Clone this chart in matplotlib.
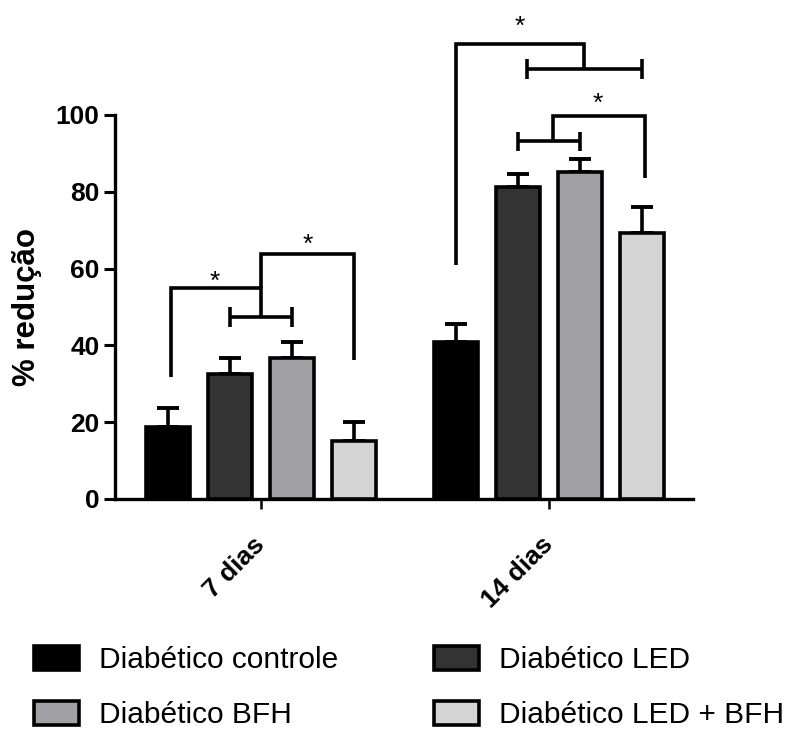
import matplotlib
matplotlib.use("Agg")
import matplotlib.pyplot as plt
import numpy as np

plt.rcParams['font.family'] = ['Liberation Sans', 'DejaVu Sans']

# ---- data ----
groups = ["7 dias", "14 dias"]
series = ["Diabético controle", "Diabético LED", "Diabético BFH", "Diabético LED + BFH"]
means = {
    "Diabético controle":   [18.8, 40.8],
    "Diabético LED":        [32.5, 81.3],
    "Diabético BFH":        [36.6, 85.2],
    "Diabético LED + BFH":  [15.2, 69.4],
}
errors = {
    "Diabético controle":   [4.8, 4.8],
    "Diabético LED":        [4.1, 3.4],
    "Diabético BFH":        [4.2, 3.3],
    "Diabético LED + BFH":  [4.9, 6.7],
}
colors = ["#000000", "#333333", "#a1a1a5", "#d4d4d4"]
yticks = [0, 20, 40, 60, 80, 100]

# ---- figure ----
W, H = 806, 734
fig = plt.figure(figsize=(W / 100, H / 100), dpi=100)
ax = fig.add_axes([115 / W, 1 - 499 / H, 578 / W, 384 / H])

x = np.arange(len(groups))
pitch = 0.215
width = 0.153
offsets = (np.arange(len(series)) - 1.5) * pitch

bars = []
centers = {}
for i, s in enumerate(series):
    xs = x + offsets[i]
    centers[s] = xs
    b = ax.bar(xs, means[s], width=width, color=colors[i], edgecolor="black",
               linewidth=2.6, zorder=3, label=s)
    bars.append(b)
    ax.errorbar(xs, means[s], yerr=[np.zeros(len(groups)), errors[s]], fmt="none",
                ecolor="black", elinewidth=2.6, capsize=8, capthick=2.8, zorder=2)

ax.set_xlim(-0.506, 1.50)
ax.set_ylim(0, 100)
ax.set_yticks(yticks)
ax.set_yticklabels([str(t) for t in yticks], fontsize=19, fontweight="bold")
ax.set_xticks(x)
ax.set_xticklabels(groups, fontsize=19, fontweight="bold", rotation=45,
                   ha="right", va="center", rotation_mode="anchor")
ax.tick_params(axis="y", length=8, width=2.2, pad=3)
ax.tick_params(axis="x", length=7, width=1.8, pad=23)
for sp in ["top", "right"]:
    ax.spines[sp].set_visible(False)
for sp in ["left", "bottom"]:
    ax.spines[sp].set_linewidth(2.4)

fig.text(27 / W, 1 - 307 / H, "% redução", rotation=90, ha="center", va="center",
         fontsize=22.5, fontweight="bold")

# ---- significance annotations ----
LW = 2.6
def poly(xs, ys):
    ax.plot(xs, ys, color="black", lw=LW, clip_on=False, zorder=4,
            solid_joinstyle="miter", solid_capstyle="butt")

def capped(x1, x2, y, h=2.6):
    poly([x1, x2], [y, y])
    poly([x1, x1], [y - h, y + h])
    poly([x2, x2], [y - h, y + h])

def star(xc, y):
    ax.text(xc, y, "*", ha="center", va="center", fontsize=19, clip_on=False, zorder=5)

c = centers
s0, s1, s2, s3 = series
# 7 dias (group 0)
g = 0
capped(c[s1][g], c[s2][g], 47.4)
mid = (c[s1][g] + c[s2][g]) / 2
poly([c[s0][g] + 0.01, c[s0][g] + 0.01, mid, mid], [31.8, 54.9, 54.9, 47.4])
poly([mid, mid, c[s3][g], c[s3][g]], [54.9, 63.8, 63.8, 36.2])
star((c[s0][g] + mid) / 2, 56.5)
star((mid + c[s3][g]) / 2, 66.3)

# 14 dias (group 1)
g = 1
xb1, xb2 = c[s1][g] + 0.03, c[s3][g]
capped(xb1, xb2, 112.1)
midB = (xb1 + xb2) / 2
poly([c[s0][g], c[s0][g], midB, midB], [60.9, 118.4, 118.4, 112.1])
star((c[s0][g] + midB) / 2, 123.0)
capped(c[s1][g], c[s2][g], 93.1, h=2.5)
midC = (c[s1][g] + c[s2][g]) / 2 + 0.015
poly([midC, midC, c[s3][g] + 0.01, c[s3][g] + 0.01], [93.1, 99.7, 99.7, 83.5])
star((midC + c[s3][g]) / 2, 102.8)

# ---- legend ----
order = [0, 2, 1, 3]
fig.legend([bars[i] for i in order], [series[i] for i in order],
           loc="upper left", bbox_to_anchor=(34 / W, 1 - 646 / H), ncol=2,
           frameon=False, fontsize=21.5, handlelength=1.5, handleheight=0.85,
           handletextpad=0.68, columnspacing=3.2, labelspacing=0.9,
           borderpad=0, borderaxespad=0)

fig.savefig("out.png", dpi=100)
